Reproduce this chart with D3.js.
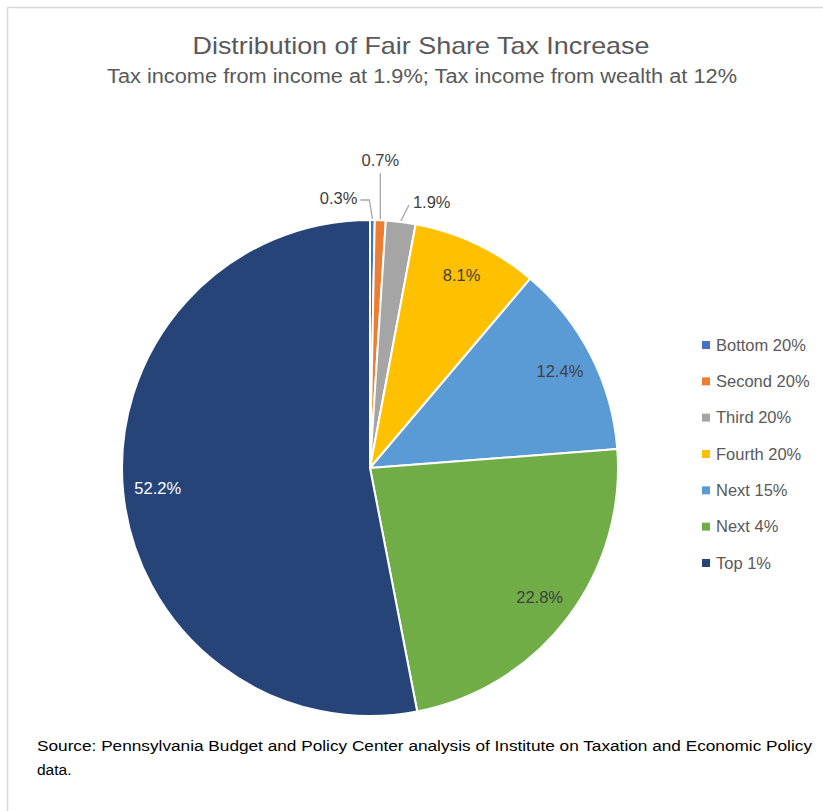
<!DOCTYPE html>
<html>
<head>
<meta charset="utf-8">
<script src="https://cdn.jsdelivr.net/npm/d3@7"></script>
<style>
  html, body { margin: 0; padding: 0; background: #fff; }
  svg { display: block; font-family: "Liberation Sans", Arial, sans-serif; }
</style>
</head>
<body>
<svg id="chart" width="823" height="811"></svg>
<script>
// Share of the tax increase by income group
const categories = ["Bottom 20%", "Second 20%", "Third 20%", "Fourth 20%", "Next 15%", "Next 4%", "Top 1%"];
const shares = [0.3, 0.7, 1.9, 8.1, 12.4, 22.8, 52.2];
const sliceColors = ["#4472C4", "#ED7D31", "#A5A5A5", "#FFC000", "#5B9BD5", "#70AD47", "#264478"];
const labelColors = ["#404040", "#404040", "#404040", "#404040", "#404040", "#404040", "#ffffff"];

const titleText = "Distribution of Fair Share Tax Increase";
const subtitleText = "Tax income from income at 1.9%; Tax income from wealth at 12%";
const sourceLines = [
  "Source: Pennsylvania Budget and Policy Center analysis of Institute on Taxation and Economic Policy",
  "data."
];

// Small slices get their labels outside with leader lines (offsets from the arc edge)
const outsideLabels = {
  "Bottom 20%": { elbow: [-3, -19], text: [-15, -21], anchor: "end" },
  "Second 20%": { elbow: [0, -46], text: [0, -52], anchor: "middle" },
  "Third 20%":  { elbow: [8, -16], text: [12, -19], anchor: "start" }
};

const svg = d3.select("#chart");
const W = 823, H = 811;

// Chart frame
svg.append("rect")
  .attr("x", 7.5).attr("y", 7.5)
  .attr("width", W + 20).attr("height", H + 20)
  .attr("fill", "#fff").attr("stroke", "#d9d9d9").attr("stroke-width", 1.5);

// Titles
svg.append("text")
  .attr("x", 421).attr("y", 53.5)
  .attr("text-anchor", "middle")
  .attr("font-size", 24).attr("fill", "#595959")
  .attr("textLength", 457).attr("lengthAdjust", "spacingAndGlyphs")
  .text(titleText);

svg.append("text")
  .attr("x", 422).attr("y", 82.5)
  .attr("text-anchor", "middle")
  .attr("font-size", 19.5).attr("fill", "#595959")
  .attr("textLength", 630).attr("lengthAdjust", "spacingAndGlyphs")
  .text(subtitleText);

// Pie
const cx = 370, cy = 468, R = 248;
const g = svg.append("g").attr("transform", `translate(${cx},${cy})`);

const color = d3.scaleOrdinal().domain(categories).range(sliceColors);
const labelColor = d3.scaleOrdinal().domain(categories).range(labelColors);
const data = categories.map((c, i) => ({ category: c, value: shares[i] }));
const pie = d3.pie().value(d => d.value).sort(null);
const arcs = pie(data);
const arc = d3.arc().innerRadius(0).outerRadius(R);
const labelArc = d3.arc().innerRadius(R * 0.86).outerRadius(R * 0.86);

g.selectAll("path.slice")
  .data(arcs)
  .join("path")
  .attr("class", "slice")
  .attr("d", arc)
  .attr("fill", d => color(d.data.category))
  .attr("stroke", "#fff")
  .attr("stroke-width", 2)
  .attr("stroke-linejoin", "round");

const fmt = v => v.toFixed(1) + "%";

// Labels inside the larger slices
g.selectAll("text.inside")
  .data(arcs.filter(d => !outsideLabels[d.data.category]))
  .join("text")
  .attr("class", "inside")
  .attr("transform", d => `translate(${labelArc.centroid(d)})`)
  .attr("text-anchor", "middle")
  .attr("dy", "0.35em")
  .attr("font-size", 16.5)
  .attr("fill", d => labelColor(d.data.category))
  .text(d => fmt(d.data.value));

// Labels outside the thin slices, with leader lines
const edgePoint = (d, r) => {
  const a = (d.startAngle + d.endAngle) / 2;
  return [r * Math.sin(a), -r * Math.cos(a)];
};
const outside = arcs.filter(d => outsideLabels[d.data.category]);

g.selectAll("polyline.leader")
  .data(outside)
  .join("polyline")
  .attr("class", "leader")
  .attr("fill", "none")
  .attr("stroke", "#a6a6a6")
  .attr("stroke-width", 1.3)
  .attr("points", d => {
    const p = edgePoint(d, R + 1);
    const o = outsideLabels[d.data.category];
    const e = [p[0] + o.elbow[0], p[1] + o.elbow[1]];
    const pts = [p, e];
    if (o.anchor === "end") pts.push([p[0] + o.text[0] + 3, e[1]]);
    return pts.map(q => q.join(",")).join(" ");
  });

g.selectAll("text.outside")
  .data(outside)
  .join("text")
  .attr("class", "outside")
  .attr("x", d => edgePoint(d, R + 1)[0] + outsideLabels[d.data.category].text[0])
  .attr("y", d => edgePoint(d, R + 1)[1] + outsideLabels[d.data.category].text[1])
  .attr("text-anchor", d => outsideLabels[d.data.category].anchor)
  .attr("dy", d => outsideLabels[d.data.category].anchor === "middle" ? "-0.1em" : "0.35em")
  .attr("font-size", 16.5)
  .attr("fill", "#404040")
  .text(d => fmt(d.data.value));

// Legend
const legend = svg.append("g").attr("transform", "translate(702,345)");
const rowY = d3.scalePoint().domain(categories).range([0, 218]);
const item = legend.selectAll("g.item")
  .data(categories)
  .join("g")
  .attr("class", "item")
  .attr("transform", c => `translate(0,${rowY(c)})`);
item.append("rect")
  .attr("x", 0).attr("y", -4)
  .attr("width", 8).attr("height", 8)
  .attr("fill", c => color(c));
item.append("text")
  .attr("x", 14).attr("y", 0)
  .attr("dy", "0.35em")
  .attr("font-size", 16.5)
  .attr("fill", "#595959")
  .text(c => c);

// Source note
svg.selectAll("text.source")
  .data(sourceLines)
  .join("text")
  .attr("class", "source")
  .attr("x", 37)
  .attr("y", (d, i) => 751 + i * 24)
  .attr("font-size", 15.5)
  .attr("fill", "#000")
  .attr("textLength", (d, i) => i === 0 ? 775 : null)
  .attr("lengthAdjust", "spacingAndGlyphs")
  .text(d => d);
</script>
</body>
</html>
